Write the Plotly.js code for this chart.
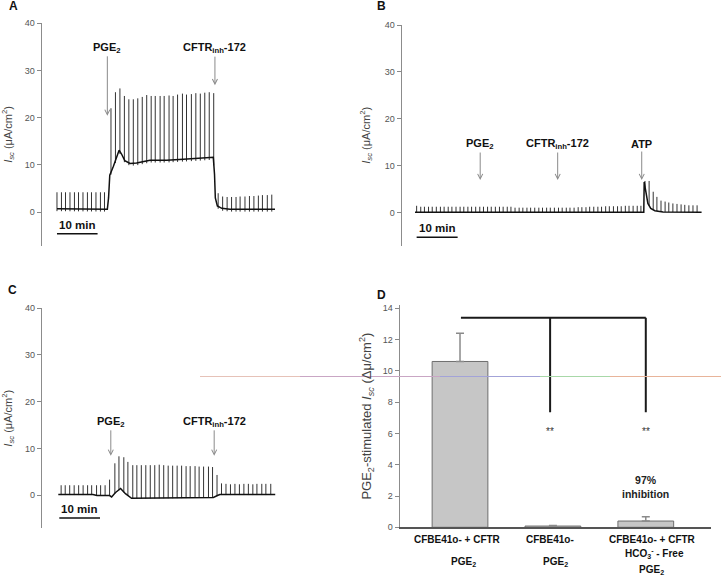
<!DOCTYPE html>
<html><head><meta charset="utf-8">
<script src="https://cdn.plot.ly/plotly-3.0.1.min.js"></script>
<style>html,body{margin:0;padding:0;background:#fff;} #chart{width:721px;height:578px;}</style>
</head><body><div id="chart"></div>
<script>
// ---------- Panel A (time in min, Isc in uA/cm2) ----------
const aBaseT = [0, 12.4, 12.7, 13.0, 13.9, 14.7, 15.3, 15.9, 16.7, 18.0, 19.6, 22.9, 27.0, 31.1, 35.2, 38.5, 38.8, 39.0, 39.5, 40.6, 42.6, 53.7];
const aBaseV = [0.7, 0.6, 3.0, 7.8, 9.7, 11.6, 13.1, 12.3, 10.9, 10.3, 10.4, 11.0, 11.0, 11.2, 11.4, 11.6, 8.0, 3.0, 1.3, 0.8, 0.6, 0.6];
const aPulseT = [0, 1.1, 2.1, 3.2, 4.3, 5.3, 6.4, 7.5, 8.5, 9.6, 10.7, 11.7,
  13.3, 14.4, 15.5, 16.6, 17.7, 18.8, 19.9, 21.0, 22.1, 23.2, 24.2, 25.4, 26.4, 27.6, 28.6, 29.7, 30.9, 31.9, 33.1, 34.2, 35.3, 36.4, 37.5, 38.6,
  39.7, 40.8, 41.9, 43.0, 44.1, 45.1, 46.3, 47.4, 48.5, 49.6, 50.6, 51.8, 52.9];
const aPulseTop = [4.2, 4.2, 4.2, 4.2, 4.2, 4.2, 4.2, 4.2, 4.2, 4.2, 4.2, 4.2,
  22.0, 25.4, 26.2, 24.6, 23.9, 23.9, 24.1, 24.4, 24.8, 24.6, 24.6, 24.6, 24.6, 24.7, 24.6, 24.9, 25.1, 24.9, 25.0, 25.2, 25.1, 25.3, 25.4, 25.2,
  4.0, 3.3, 3.2, 3.2, 3.2, 3.3, 3.3, 3.4, 3.4, 3.5, 3.6, 3.6, 3.7];

// ---------- Panel B ----------
const bBaseT = [0, 55.8, 55.9, 56.3, 56.8, 57.5, 58.5, 60.5, 69.9];
const bBaseV = [0, 0, 6.5, 4.1, 1.9, 0.85, 0.35, 0.1, 0.0];
const bPulseT = [0.4, 1.4, 2.3, 3.3, 4.2, 5.2, 6.2, 7.1, 8.1, 9.0, 10.0, 11.0, 11.9, 12.9, 13.8, 14.8, 15.8, 16.7, 17.7, 18.6,
  19.6, 20.6, 21.5, 22.5, 23.4, 24.4, 25.4, 26.3, 27.3, 28.2, 29.2, 30.2, 31.1, 32.1, 33.0, 34.0, 35.0, 35.9, 36.9, 37.8,
  38.8, 39.8, 40.7, 41.7, 42.6, 43.6, 44.6, 45.5, 46.5, 47.4, 48.4, 49.4, 50.3, 51.3, 52.2, 53.2, 54.2, 55.1,
  56.1, 57.1, 58.1, 59.0, 60.0, 61.0, 61.9, 62.9, 63.9, 64.9, 65.8, 66.8, 67.8, 68.8];
const bPulseTop = [1.4, 1.2, 1.2, 1.2, 1.2, 1.2, 1.2, 1.2, 1.2, 1.2, 1.2, 1.2, 1.2, 1.2, 1.2, 1.2, 1.2, 1.2, 1.2, 1.2,
  1.2, 1.2, 1.2, 1.2, 1.2, 1.0, 1.0, 1.0, 1.0, 1.0, 1.0, 1.0, 1.0, 1.0, 1.0, 1.0, 1.0, 1.0, 1.0, 1.0,
  1.0, 1.1, 1.1, 1.1, 1.2, 1.2, 1.2, 1.2, 1.3, 1.3, 1.3, 1.3, 1.3, 1.4, 1.4, 1.4, 1.4, 1.4,
  6.7, 6.7, 4.4, 3.3, 2.5, 2.3, 2.1, 1.9, 1.8, 1.7, 1.6, 1.5, 1.5, 1.5];

// ---------- Panel C ----------
const cBaseT = [0, 8.5, 9.5, 12.6, 13.1, 14.0, 15.3, 16.5, 18.0, 25.0, 38.1, 39.1, 39.7, 53.3];
const cBaseV = [0.1, 0.1, -0.1, -0.1, -0.4, 0.5, 1.4, 0.3, -0.7, -0.6, -0.5, -0.1, 0.1, 0.1];
const cPulseT = [0.7, 1.7, 2.8, 3.9, 5.0, 6.1, 7.2, 8.2, 9.4, 10.4, 11.5, 12.6,
  13.9, 14.9, 16.1, 17.1, 18.3, 19.3, 20.4, 21.5, 22.6, 23.7, 24.8, 25.9, 27.0, 28.1, 29.2, 30.3, 31.4, 32.4, 33.6, 34.6, 35.7, 36.9, 37.9, 39.0,
  40.1, 41.2, 42.3, 43.4, 44.5, 45.6, 46.7, 47.8, 48.8, 50.0, 51.0, 52.2];
const cPulseTop = [2.1, 2.1, 2.1, 2.1, 2.1, 2.1, 2.1, 2.1, 2.1, 2.1, 2.1, 3.3,
  6.8, 8.3, 8.1, 7.1, 6.4, 6.4, 6.4, 6.4, 6.4, 6.4, 6.5, 6.4, 6.3, 6.3, 6.3, 6.3, 6.2, 6.2, 6.2, 6.1, 6.1, 6.1, 6.0, 4.3,
  2.5, 2.4, 2.3, 2.4, 2.3, 2.4, 2.4, 2.3, 2.4, 2.4, 2.4, 2.4];

// ---------- Panel D ----------
const dCategories1 = ["CFBE41o- + CFTR", "CFBE41o-", "CFBE41o- + CFTR"];
const dCategories2 = ["PGE<sub>2</sub>", "PGE<sub>2</sub>", "HCO<sub>3</sub><sup>-</sup> - Free"];
const dCategories3 = ["", "", "PGE<sub>2</sub>"];
const dValues = [10.6, 0.08, 0.40];
const dErrPlus = [1.8, 0.04, 0.28];

// ---------- helpers ----------
function interp(T, V, t) {
  if (t <= T[0]) return V[0];
  for (let i = 1; i < T.length; i++) {
    if (t <= T[i]) { const f = (t - T[i-1]) / (T[i] - T[i-1]); return V[i-1] + f * (V[i] - V[i-1]); }
  }
  return V[V.length - 1];
}
function pulseTrace(times, tops, baseT, baseV, dip, xa, ya) {
  const xs = [], ys = [];
  times.forEach((t, i) => { const b = interp(baseT, baseV, t); xs.push(t, t, null); ys.push(b - dip, tops[i], null); });
  return {type: 'scatter', mode: 'lines', x: xs, y: ys, xaxis: xa, yaxis: ya, line: {color: '#333', width: 1}, hoverinfo: 'skip', showlegend: false};
}
function baseTrace(T, V, xa, ya) {
  return {type: 'scatter', mode: 'lines', x: T, y: V, xaxis: xa, yaxis: ya, line: {color: '#111', width: 1.5}, hoverinfo: 'skip', showlegend: false};
}

const W = 721, H = 578;
const px = v => v / W, py = v => 1 - v / H;
const FF = 'Arial, "Liberation Sans", sans-serif';

const traces = [
  pulseTrace(aPulseT, aPulseTop, aBaseT, aBaseV, 0.5, 'x', 'y'),
  baseTrace(aBaseT, aBaseV, 'x', 'y'),
  pulseTrace(bPulseT, bPulseTop, bBaseT, bBaseV, 0, 'x2', 'y2'),
  baseTrace(bBaseT, bBaseV, 'x2', 'y2'),
  pulseTrace(cPulseT, cPulseTop, cBaseT, cBaseV, 0.1, 'x3', 'y3'),
  baseTrace(cBaseT, cBaseV, 'x3', 'y3'),
  {type: 'bar', x: [0, 1, 2], y: dValues, xaxis: 'x4', yaxis: 'y4', width: 0.6,
   marker: {color: '#c6c6c6', line: {color: '#6e6e6e', width: 1}},
   error_y: {type: 'data', symmetric: false, array: dErrPlus, arrayminus: [0, 0, 0], color: '#8a8a8a', thickness: 1.5, width: 4},
   hoverinfo: 'skip', showlegend: false}
];

const tickFont = {family: FF, size: 9, color: '#555'};
const iscTitle = '<i>I</i><sub><i>sc</i></sub> (μA/cm<sup>2</sup>)';
function yTrace(domain, anchor) {
  return {domain: domain, anchor: anchor, range: [-7.1, 40], tickvals: [0, 10, 20, 30, 40], ticks: 'outside', ticklen: 4, tickcolor: '#888',
    showline: true, linecolor: '#8c8c8c', linewidth: 1.5, showgrid: false, zeroline: false, tickfont: tickFont,
    title: {text: iscTitle, font: {family: FF, size: 11, color: '#444'}, standoff: 12}};
}
function xHidden(domain, range, anchor) {
  return {domain: domain, range: range, anchor: anchor, visible: false, showgrid: false, zeroline: false};
}

const lab = {family: FF, size: 11, color: '#111'};
function arrowAnn(xr, yr, x, y, text, ay) {
  return {xref: xr, yref: yr, x: x, y: y, text: '<b>' + text + '</b>', showarrow: true, arrowhead: 5, arrowsize: 1, arrowwidth: 1,
    arrowcolor: '#8a8a8a', ax: 0, ay: ay, font: lab};
}
function scaleBar(xr, yr, x0, x1, y) {
  return {type: 'line', xref: xr, yref: yr, x0: x0, x1: x1, y0: y, y1: y, line: {color: '#111', width: 1.5}};
}
function scaleText(xr, yr, x, y) {
  return {xref: xr, yref: yr, x: x, y: y, text: '<b>10 min</b>', showarrow: false, xanchor: 'center', yanchor: 'bottom',
    font: {family: FF, size: 11.5, color: '#111'}};
}
function panelLetter(x, y, t) {
  return {xref: 'paper', yref: 'paper', x: px(x), y: py(y), xanchor: 'center', yanchor: 'middle', text: '<b>' + t + '</b>', showarrow: false,
    font: {family: FF, size: 12, color: '#111'}};
}

const annotations = [
  panelLetter(13, 6, 'A'), panelLetter(381, 6, 'B'), panelLetter(12, 290, 'C'), panelLetter(381, 295, 'D'),
  arrowAnn('x', 'y', 12.4, 20.4, 'PGE<sub>2</sub>', -68),
  arrowAnn('x', 'y', 38.9, 26.9, 'CFTR<sub>inh</sub>-172', -37),
  arrowAnn('x2', 'y2', 15.9, 6.9, 'PGE<sub>2</sub>', -36),
  arrowAnn('x2', 'y2', 34.8, 6.9, 'CFTR<sub>inh</sub>-172', -36),
  arrowAnn('x2', 'y2', 55.3, 6.9, 'ATP', -36),
  arrowAnn('x3', 'y3', 12.9, 8.4, 'PGE<sub>2</sub>', -34),
  arrowAnn('x3', 'y3', 38.3, 8.4, 'CFTR<sub>inh</sub>-172', -34),
  scaleText('x', 'y', 5, -4.4), scaleText('x2', 'y2', 5.4, -5.1), scaleText('x3', 'y3', 5.2, -4.7),
  {xref: 'x4', yref: 'y4', x: 0.97, y: 6.1, text: '**', showarrow: false, xanchor: 'center', yanchor: 'middle', font: {family: FF, size: 10, color: '#333'}},
  {xref: 'x4', yref: 'y4', x: 2.0, y: 6.1, text: '**', showarrow: false, xanchor: 'center', yanchor: 'middle', font: {family: FF, size: 10, color: '#333'}},
  {xref: 'x4', yref: 'y4', x: 2.0, y: 2.58, text: '<b>97%<br>inhibition</b>', showarrow: false, xanchor: 'center', yanchor: 'middle',
   font: {family: FF, size: 10.5, color: '#222'}}
];
const catFont = {family: FF, size: 10, color: '#111'};
dCategories1.forEach((c, i) => {
  const three = dCategories3[i] !== '';
  annotations.push({xref: 'x4', yref: 'paper', x: i, y: py(539), xanchor: 'center', yanchor: 'middle', text: '<b>' + c + '</b>', showarrow: false, xshift: three ? 7 : -3, font: catFont});
  annotations.push({xref: 'x4', yref: 'paper', x: i, y: py(three ? 553 : 562), xanchor: 'center', yanchor: 'middle', text: '<b>' + dCategories2[i] + '</b>', showarrow: false, xshift: three ? 9 : 3, font: catFont});
  if (three) annotations.push({xref: 'x4', yref: 'paper', x: i, y: py(570), xanchor: 'center', yanchor: 'middle', text: '<b>' + dCategories3[i] + '</b>', showarrow: false, xshift: 6, font: catFont});
});

const shapes = [
  scaleBar('x', 'y', 0, 10, -4.6), scaleBar('x2', 'y2', 0.4, 10.4, -5.3), scaleBar('x3', 'y3', 0.25, 10.25, -4.9),
  {type: 'line', xref: 'x4', yref: 'y4', x0: 0.01, x1: 2.0, y0: 13.4, y1: 13.4, line: {color: '#1a1a1a', width: 2}},
  {type: 'line', xref: 'x4', yref: 'y4', x0: 0.97, x1: 0.97, y0: 13.4, y1: 7.35, line: {color: '#1a1a1a', width: 2}},
  {type: 'line', xref: 'x4', yref: 'y4', x0: 2.0, x1: 2.0, y0: 13.4, y1: 7.35, line: {color: '#1a1a1a', width: 2}},
  // faint scan artefact line
  {type: 'line', xref: 'paper', yref: 'paper', x0: px(200), x1: px(300), y0: py(376.5), y1: py(376.5), line: {color: '#e6c2b8', width: 1}},
  {type: 'line', xref: 'paper', yref: 'paper', x0: px(300), x1: px(440), y0: py(376.5), y1: py(376.5), line: {color: '#c9a6c4', width: 1}},
  {type: 'line', xref: 'paper', yref: 'paper', x0: px(440), x1: px(540), y0: py(376.5), y1: py(376.5), line: {color: '#a3a3d8', width: 1}},
  {type: 'line', xref: 'paper', yref: 'paper', x0: px(540), x1: px(610), y0: py(376.5), y1: py(376.5), line: {color: '#a8d8a8', width: 1}},
  {type: 'line', xref: 'paper', yref: 'paper', x0: px(610), x1: px(721), y0: py(376.5), y1: py(376.5), line: {color: '#e8b49a', width: 1}}
];

const layout = {
  width: W, height: H, margin: {l: 0, r: 0, t: 0, b: 0}, paper_bgcolor: '#fff', plot_bgcolor: 'rgba(0,0,0,0)',
  font: {family: FF},
  showlegend: false,
  xaxis: xHidden([px(42), px(290)], [-3.69, 57.39], 'y'),
  yaxis: yTrace([py(245.6), py(23.3)], 'x'),
  xaxis2: xHidden([px(402), px(715)], [-3.17, 73.17], 'y2'),
  yaxis2: yTrace([py(245.6), py(25)], 'x2'),
  xaxis3: xHidden([px(42.3), px(290)], [-3.93, 56.93], 'y3'),
  yaxis3: yTrace([py(528.2), py(308.3)], 'x3'),
  xaxis4: {domain: [px(400), px(711)], range: [-0.646, 2.702], anchor: 'y4', showline: true, linecolor: '#555', linewidth: 1.2,
    showticklabels: false, ticks: '', showgrid: false, zeroline: false},
  yaxis4: {domain: [py(527.3), py(305)], range: [0, 14.21], anchor: 'x4', tickvals: [0, 2, 4, 6, 8, 10, 12, 14], ticks: 'outside', ticklen: 4,
    tickcolor: '#888', showline: true, linecolor: '#8c8c8c', linewidth: 1.5, showgrid: false, zeroline: false, tickfont: tickFont,
    title: {text: 'PGE<sub>2</sub>-stimulated <i>I</i><sub><i>sc</i></sub> (Δμ/cm<sup>2</sup>)', font: {family: FF, size: 13, color: '#444'}, standoff: 8}},
  annotations: annotations,
  shapes: shapes
};

Plotly.newPlot('chart', traces, layout, {displayModeBar: false, staticPlot: true});
</script>
</body></html>
